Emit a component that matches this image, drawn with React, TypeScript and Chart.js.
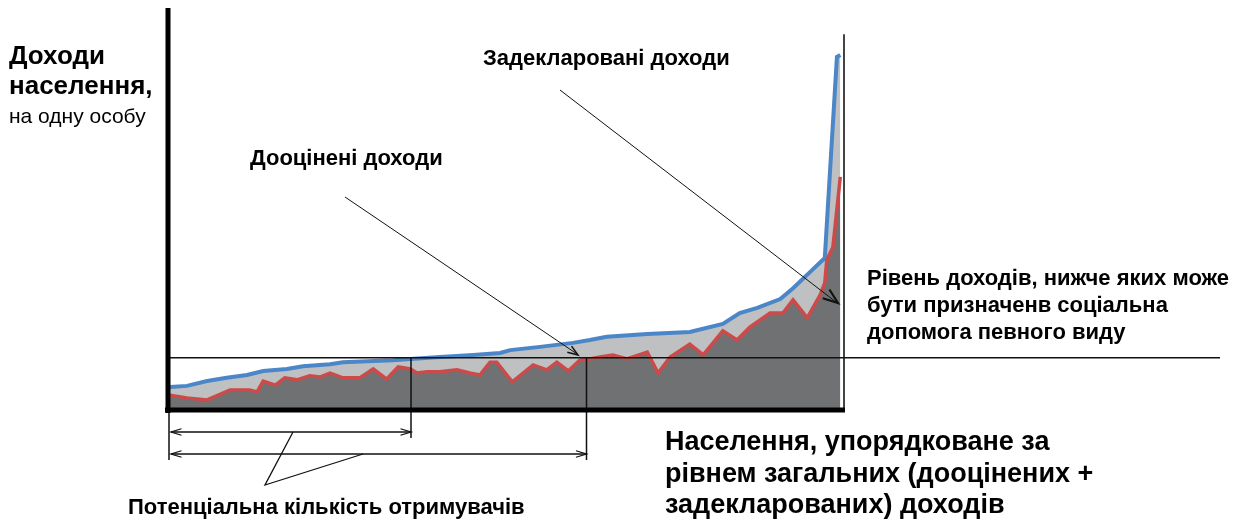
import React, { useEffect, useRef } from "react";
import { Chart, registerables } from "chart.js";

Chart.register(...registerables);

// Population rank (percent of ordered population)
const totalX = [0.3, 2.8, 5.8, 8.7, 11.7, 14.1, 17.6, 20, 24, 25.9, 33.3, 35.9, 40.3, 45.2, 49.2, 50.7, 55.1, 60, 62.5, 65, 71, 77.3, 82.2, 84.7, 87.3, 90.7, 92.6, 95.1, 97.3, 99.1, 99.6];
// Total (assessed + declared) income per person
const totalY = [5.7, 6.0, 7.2, 8.0, 8.7, 9.7, 10.2, 10.9, 11.4, 11.9, 12.4, 12.7, 13.2, 13.7, 14.2, 14.9, 15.7, 16.7, 17.4, 18.2, 18.9, 19.4, 21.4, 24.1, 25.4, 27.6, 30.3, 34.3, 37.8, 87.8, 88.3];

const assessedX = [0.3, 2.8, 5.8, 9.2, 12.1, 13.2, 14.1, 15.9, 17.3, 19.1, 21.0, 22.5, 24.0, 25.9, 28.4, 30.4, 32.4, 34.1, 35.9, 36.9, 38.4, 40.3, 42.8, 44.7, 46.2, 47.7, 48.7, 51.0, 54.1, 56.1, 57.6, 59.3, 61.0, 62.5, 64.0, 65.9, 68.0, 71.0, 72.6, 74.4, 77.3, 79.3, 82.2, 84.3, 86.2, 89.2, 91.1, 92.6, 94.7, 96.6, 97.3, 97.6, 98.5, 99.6];
// Assessed income per person
const assessedY = [3.7, 3.0, 2.5, 5.0, 5.0, 4.5, 7.2, 6.2, 8.0, 7.5, 8.5, 8.2, 9.2, 8.0, 8.0, 10.2, 7.7, 10.7, 10.2, 9.2, 9.5, 9.5, 10.0, 9.2, 8.7, 11.9, 11.9, 7.0, 11.2, 10.0, 11.9, 9.7, 12.4, 12.7, 13.2, 13.7, 12.7, 14.4, 9.2, 13.2, 16.4, 13.7, 19.7, 17.4, 20.6, 24.1, 24.1, 27.4, 22.9, 28.6, 31.6, 37.3, 40.5, 58.0];

const thresholdLevel = 13;
const recipientBounds = [36, 62];

const titleY = ["Доходи", "населення,"];
const titleYSub = "на одну особу";
const labelDeclared = "Задекларовані доходи";
const labelAssessed = "Дооцінені доходи";
const labelThreshold = ["Рівень доходів, нижче яких може", "бути призначенв соціальна", "допомога певного виду"];
const labelX = ["Населення, упорядковане за", "рівнем загальних (дооцінених +", "задекларованих) доходів"];
const labelRecipients = "Потенціальна кількість отримувачів";

const FONT = "'Liberation Sans', Arial, sans-serif";

function arrowHead(ctx: CanvasRenderingContext2D, x1: number, y1: number, x2: number, y2: number, len: number, ang: number) {
  const a = Math.atan2(y2 - y1, x2 - x1);
  ctx.beginPath();
  ctx.moveTo(x2 - len * Math.cos(a - ang), y2 - len * Math.sin(a - ang));
  ctx.lineTo(x2, y2);
  ctx.lineTo(x2 - len * Math.cos(a + ang), y2 - len * Math.sin(a + ang));
  ctx.stroke();
}

const overlay = {
  id: "overlay",
  afterDatasetsDraw(chart: any) {
    const ctx: CanvasRenderingContext2D = chart.ctx;
    const xs = chart.scales.x;
    const ys = chart.scales.y;
    const x0 = xs.getPixelForValue(0);
    const xEnd = xs.getPixelForValue(100);
    const y0 = ys.getPixelForValue(0);
    const yTop = ys.getPixelForValue(100);
    const yThr = ys.getPixelForValue(thresholdLevel);
    const xb1 = xs.getPixelForValue(recipientBounds[0]);
    const xb2 = xs.getPixelForValue(recipientBounds[1]);
    ctx.save();
    ctx.lineCap = "butt";
    // right boundary
    ctx.strokeStyle = "#444";
    ctx.lineWidth = 2;
    ctx.beginPath();
    ctx.moveTo(xEnd + 1, ys.getPixelForValue(93.5));
    ctx.lineTo(xEnd + 1, y0);
    ctx.stroke();
    // threshold line
    ctx.strokeStyle = "#111";
    ctx.lineWidth = 1.5;
    ctx.beginPath();
    ctx.moveTo(x0, yThr);
    ctx.lineTo(1220, yThr);
    ctx.stroke();
    // verticals
    ctx.beginPath();
    ctx.moveTo(xb1, yThr);
    ctx.lineTo(xb1, 438);
    ctx.moveTo(xb2, yThr);
    ctx.lineTo(xb2, 460);
    ctx.moveTo(x0 + 1, y0);
    ctx.lineTo(x0 + 1, 460);
    ctx.stroke();
    // axes
    ctx.strokeStyle = "#000";
    ctx.lineWidth = 5;
    ctx.beginPath();
    ctx.moveTo(x0, yTop);
    ctx.lineTo(x0, y0 + 3);
    ctx.moveTo(x0 - 3, y0);
    ctx.lineTo(xEnd + 2, y0);
    ctx.stroke();
    // dimension arrows
    ctx.lineWidth = 1.3;
    ctx.strokeStyle = "#111";
    const dims = [[xb1, 432], [xb2, 454]];
    for (const [xr, yy] of dims) {
      ctx.beginPath();
      ctx.moveTo(x0 + 3, yy);
      ctx.lineTo(xr, yy);
      ctx.stroke();
      arrowHead(ctx, xr, yy, x0 + 3, yy, 11, 0.3);
      arrowHead(ctx, x0 + 3, yy, xr, yy, 11, 0.3);
    }
    // pointer to dims
    ctx.beginPath();
    ctx.moveTo(293, 432);
    ctx.lineTo(265, 485);
    ctx.lineTo(363, 454);
    ctx.stroke();
    // annotation arrows
    ctx.lineWidth = 1;
    ctx.beginPath();
    ctx.moveTo(560, 90);
    ctx.lineTo(836, 302);
    ctx.moveTo(345, 197);
    ctx.lineTo(577, 354);
    ctx.stroke();
    ctx.lineWidth = 2.2;
    arrowHead(ctx, 560, 90, 838, 303, 16, 0.35);
    ctx.lineWidth = 1.5;
    arrowHead(ctx, 345, 197, 578, 355, 11, 0.35);
    // texts
    ctx.fillStyle = "#000";
    ctx.textBaseline = "alphabetic";
    ctx.textAlign = "left";
    ctx.font = `bold 26px ${FONT}`;
    ctx.fillText(titleY[0], 9, 64);
    ctx.fillText(titleY[1], 9, 94);
    ctx.font = `21px ${FONT}`;
    ctx.fillText(titleYSub, 9, 123);
    ctx.font = `bold 22px ${FONT}`;
    ctx.fillText(labelDeclared, 483, 65);
    ctx.fillText(labelAssessed, 250, 165);
    ctx.font = `bold 22px ${FONT}`;
    labelThreshold.forEach((t, i) => ctx.fillText(t, 867, 285 + i * 27));
    ctx.font = `bold 27px ${FONT}`;
    labelX.forEach((t, i) => ctx.fillText(t, 665, 450 + i * 31.5));
    ctx.font = `bold 22px ${FONT}`;
    ctx.fillText(labelRecipients, 128, 514);
    ctx.restore();
  },
};

export default function App() {
  const ref = useRef<HTMLCanvasElement | null>(null);
  useEffect(() => {
    if (!ref.current) return;
    const chart = new Chart(ref.current, {
      type: "line",
      data: {
        datasets: [
          {
            label: "Дооцінені доходи",
            data: assessedX.map((x, i) => ({ x, y: assessedY[i] })),
            borderColor: "#cd4a4a",
            borderWidth: 3.5,
            backgroundColor: "#6f7173",
            fill: "origin",
            pointRadius: 0,
            tension: 0,
          },
          {
            label: "Задекларовані доходи",
            data: totalX.map((x, i) => ({ x, y: totalY[i] })),
            borderColor: "#4a86c8",
            borderWidth: 4,
            backgroundColor: "#bec0c1",
            fill: "origin",
            pointRadius: 0,
            tension: 0,
          },
        ],
      },
      options: {
        animation: false,
        responsive: false,
        maintainAspectRatio: false,
        devicePixelRatio: 1,
        layout: { padding: { left: 168, right: 402, top: 8, bottom: 109 } },
        scales: {
          x: { type: "linear", min: 0, max: 100, display: false },
          y: { type: "linear", min: 0, max: 100, display: false },
        },
        plugins: { legend: { display: false }, tooltip: { enabled: false } },
      },
      plugins: [overlay],
    });
    return () => chart.destroy();
  }, []);
  return (
    <div style={{ position: "fixed", left: 0, top: 0, width: 1245, height: 519, background: "#fff" }}>
      <canvas ref={ref} width={1245} height={519} style={{ width: 1245, height: 519 }} />
    </div>
  );
}
